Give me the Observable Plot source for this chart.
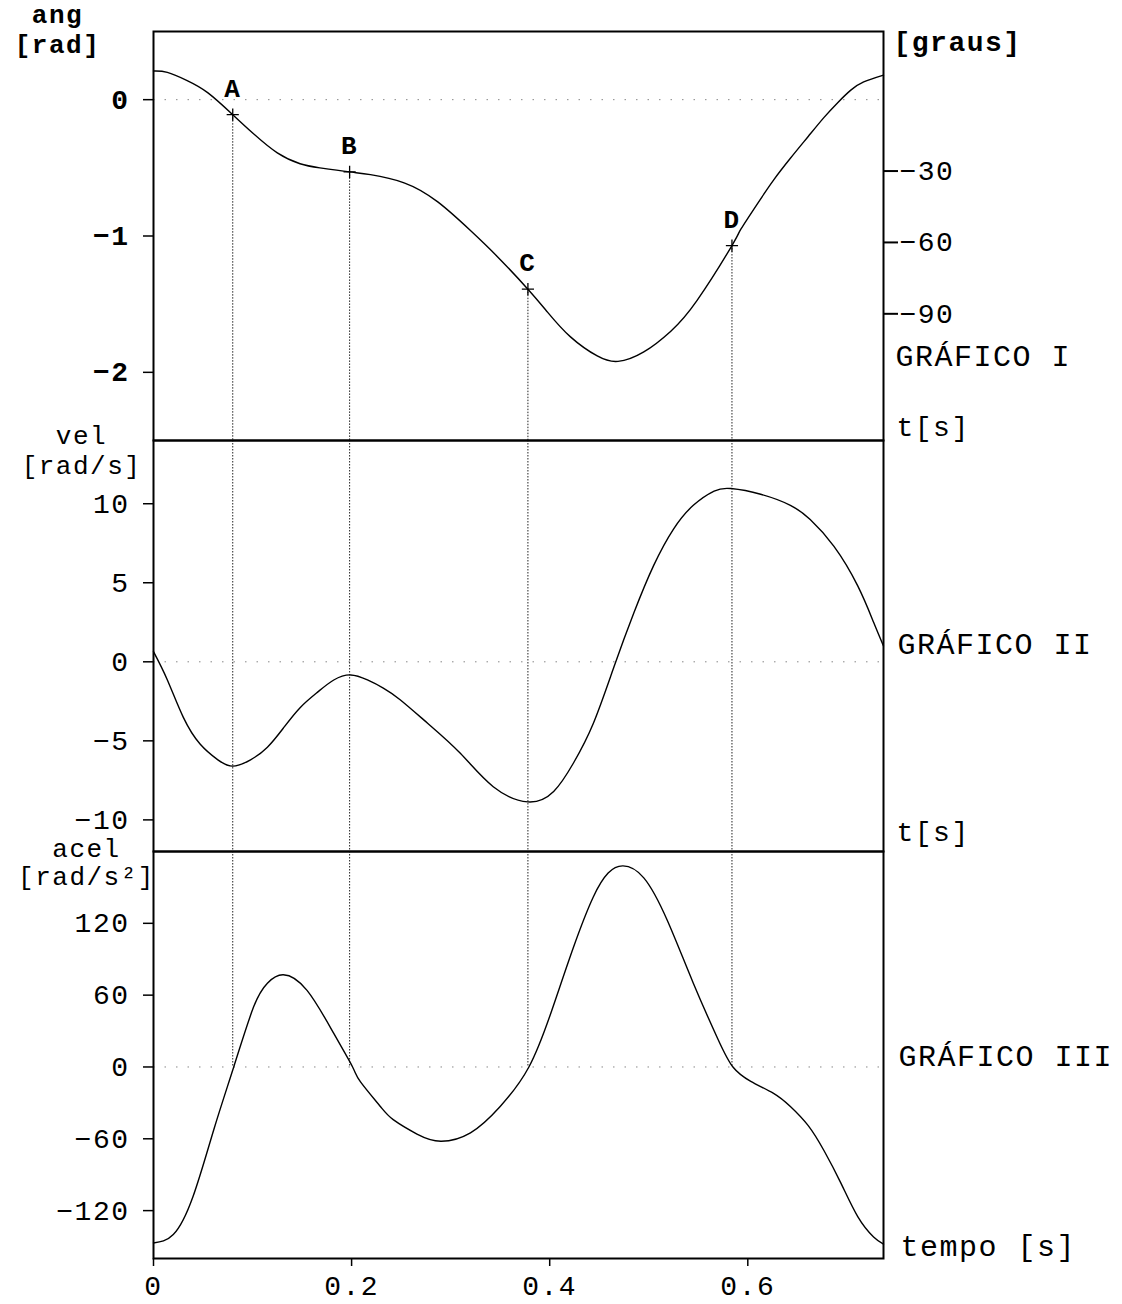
<!DOCTYPE html>
<html>
<head>
<meta charset="utf-8">
<script src="https://cdn.jsdelivr.net/npm/d3@7"></script>
<script src="https://cdn.jsdelivr.net/npm/@observablehq/plot@0.6"></script>
<style>
  body { margin: 0; background: #fff; }
  #chart { width: 1122px; }
  #chart svg { display: block; overflow: visible; max-width: none; }
</style>
</head>
<body>
<div id="chart"></div>
<script>
// ---- data ----
const angTime   = [0.000, 0.014, 0.034, 0.055, 0.080, 0.101, 0.125, 0.148, 0.168, 0.198, 0.219, 0.253, 0.287, 0.320, 0.347, 0.378, 0.398, 0.421, 0.448, 0.469, 0.495, 0.522, 0.549, 0.584, 0.593, 0.610, 0.626, 0.643, 0.661, 0.677, 0.691, 0.704, 0.717, 0.737];
const angValues = [0.21, 0.20, 0.14, 0.05, -0.11, -0.25, -0.39, -0.47, -0.50, -0.53, -0.55, -0.61, -0.75, -0.96, -1.15, -1.39, -1.56, -1.74, -1.88, -1.92, -1.85, -1.70, -1.47, -1.07, -0.95, -0.76, -0.59, -0.43, -0.27, -0.13, -0.02, 0.07, 0.13, 0.18];

const velTime   = [0.000, 0.014, 0.030, 0.047, 0.065, 0.080, 0.098, 0.115, 0.131, 0.148, 0.166, 0.182, 0.199, 0.216, 0.232, 0.249, 0.277, 0.310, 0.343, 0.378, 0.404, 0.424, 0.444, 0.465, 0.485, 0.505, 0.525, 0.545, 0.566, 0.583, 0.613, 0.643, 0.663, 0.687, 0.711, 0.727, 0.737];
const velValues = [0.64, -1.15, -3.5, -5.2, -6.2, -6.6, -6.2, -5.4, -4.2, -2.9, -1.9, -1.15, -0.83, -1.15, -1.66, -2.4, -3.9, -5.8, -7.9, -8.86, -8.2, -6.4, -3.9, -0.3, 3.1, 6.1, 8.4, 9.9, 10.8, 10.96, 10.6, 9.9, 9.0, 7.3, 4.8, 2.5, 1.0];

const accTime   = [0.000, 0.020, 0.040, 0.061, 0.081, 0.101, 0.115, 0.131, 0.155, 0.182, 0.201, 0.209, 0.229, 0.242, 0.266, 0.290, 0.320, 0.350, 0.379, 0.402, 0.424, 0.444, 0.459, 0.474, 0.495, 0.519, 0.545, 0.570, 0.585, 0.603, 0.626, 0.643, 0.661, 0.677, 0.694, 0.711, 0.727, 0.737];
const accValues = [-147, -140, -108, -52, 0, 50, 70, 77, 64, 28, 0, -12.5, -33, -44, -56, -62, -55, -33, 0, 47, 100, 142, 162, 168, 158, 122, 70, 23, 0, -12, -22, -33, -49, -70, -97, -125, -142, -148];

const pointLabels = ["A", "B", "C", "D"];
const pointTimes  = [0.080, 0.198, 0.378, 0.584];
const pointAngles = [-0.11, -0.53, -1.39, -1.07];

const angTicks  = [0, -1, -2];
const degTicks  = [-30, -60, -90];
const velTicks  = [10, 5, 0, -5, -10];
const accTicks  = [120, 60, 0, -60, -120];
const timeTicks = [0, 0.2, 0.4, 0.6];

const timeDomain = [0, 0.737];
const angDomain  = [-2.5, 0.5];
const velDomain  = [-12, 14];
const accDomain  = [-160, 180];

// ---- tables built from the arrays ----
const angData = angTime.map((t, i) => ({t, v: angValues[i]}));
const velData = velTime.map((t, i) => ({t, v: velValues[i]}));
const accData = accTime.map((t, i) => ({t, v: accValues[i]}));
const points  = pointLabels.map((label, i) => ({label, t: pointTimes[i], ang: pointAngles[i]}));

const FONT = "'Liberation Mono', 'DejaVu Sans Mono', monospace";
const minus = d => String(d).replace("-", "\u2212");

const common = {
  width: 1122,
  marginLeft: 153,
  marginRight: 239,
  style: {fontFamily: FONT, fontSize: "28px", letterSpacing: "1.5px", background: "transparent", overflow: "visible", color: "black"},
};
const zeroLine = Plot.ruleY([0], {stroke: "#888", strokeDasharray: "1.5,10", strokeWidth: 1});
const dropStyle = {stroke: "#222", strokeDasharray: "1.5,1.5", strokeWidth: 1};
const curveStyle = {x: "t", y: "v", curve: "natural", stroke: "black", strokeWidth: 1.4};
const label = (txt, opts) => Plot.text([txt], {text: d => d, fill: "black", lineAnchor: "bottom", ...opts});

// ---- Panel I: angle ----
const p1 = Plot.plot({
  ...common,
  height: 440, marginTop: 31, marginBottom: 0,
  x: {domain: timeDomain, axis: null},
  y: {domain: angDomain, axis: null},
  marks: [
    zeroLine,
    Plot.ruleX(points, {x: "t", y1: "ang", y2: () => angDomain[0], ...dropStyle}),
    Plot.line(angData, curveStyle),
    Plot.dot(points, {x: "t", y: "ang", symbol: "plus", r: 4, stroke: "black", strokeWidth: 1.3}),
    Plot.text(points, {x: "t", y: "ang", text: "label", dy: -26, fontWeight: "bold", fontSize: 26, fill: "black"}),
    Plot.frame({stroke: "black", strokeWidth: 2}),
    Plot.axisY(angTicks, {anchor: "left", tickSize: 10, tickPadding: 14, tickFormat: minus, fontWeight: "bold", label: null, strokeWidth: 1.5}),
    Plot.axisY(degTicks.map(d => d * Math.PI / 180), {anchor: "right", tickSize: 14, tickPadding: 2, strokeWidth: 2,
      tickFormat: d => minus(Math.round(d * 180 / Math.PI)), label: null}),
    label("ang\n[rad]", {frameAnchor: "top-left", dx: -96, dy: 21, fontSize: 26, lineHeight: 1.12, textAnchor: "middle", fontWeight: "bold"}),
    label("[graus]", {frameAnchor: "top-right", dx: 10, dy: 19, textAnchor: "start", fontWeight: "bold"}),
    label("GRÁFICO I", {frameAnchor: "top-right", dx: 12, dy: 334, textAnchor: "start", fontSize: 30}),
    label("t[s]", {frameAnchor: "top-right", dx: 13, dy: 404, textAnchor: "start"})
  ]
});

// ---- Panel II: velocity ----
const p2 = Plot.plot({
  ...common,
  height: 411, marginTop: 0, marginBottom: 0,
  x: {domain: timeDomain, axis: null},
  y: {domain: velDomain, axis: null},
  marks: [
    zeroLine,
    Plot.ruleX(points, {x: "t", ...dropStyle}),
    Plot.line(velData, curveStyle),
    Plot.frame({stroke: "black", strokeWidth: 2}),
    Plot.axisY(velTicks, {anchor: "left", tickSize: 10, tickPadding: 14, tickFormat: minus, label: null, strokeWidth: 1.5}),
    label("vel\n[rad/s]", {frameAnchor: "top-left", dx: -72, dy: 33, fontSize: 26, lineHeight: 1.12, textAnchor: "middle"}),
    label("GRÁFICO II", {frameAnchor: "top-right", dx: 14, dy: 213, textAnchor: "start", fontSize: 30}),
    label("t[s]", {frameAnchor: "top-right", dx: 13, dy: 400, textAnchor: "start"})
  ]
});

// ---- Panel III: acceleration ----
const p3 = Plot.plot({
  ...common,
  height: 453, marginTop: 0, marginBottom: 46,
  x: {domain: timeDomain, axis: null},
  y: {domain: accDomain, axis: null},
  marks: [
    zeroLine,
    Plot.ruleX(points, {x: "t", y1: () => accDomain[1], y2: () => 0, ...dropStyle}),
    Plot.line(accData, curveStyle),
    Plot.frame({stroke: "black", strokeWidth: 2}),
    Plot.axisY(accTicks, {anchor: "left", tickSize: 10, tickPadding: 14, tickFormat: minus, label: null, strokeWidth: 1.5}),
    Plot.axisX(timeTicks, {anchor: "bottom", tickSize: 8, tickPadding: 9, tickFormat: d => String(d), label: null, strokeWidth: 1.5}),
    label("acel\n[rad/s²]", {frameAnchor: "top-left", dx: -67, dy: 33, fontSize: 26, lineHeight: 1.06, textAnchor: "middle"}),
    label("GRÁFICO III", {frameAnchor: "top-right", dx: 15, dy: 214, textAnchor: "start", fontSize: 30}),
    label("tempo [s]", {frameAnchor: "top-right", dx: 17, dy: 404, textAnchor: "start", fontSize: 30})
  ]
});

const root = document.getElementById("chart");
root.append(p1, p2, p3);
</script>
</body>
</html>
